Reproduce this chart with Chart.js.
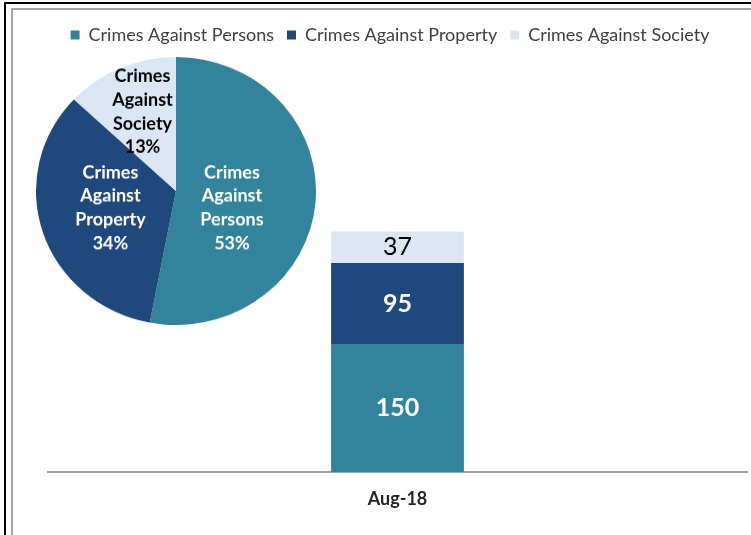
<!DOCTYPE html>
<html>
<head>
<meta charset="utf-8">
<script src="https://cdn.jsdelivr.net/npm/chart.js@4.4.1/dist/chart.umd.min.js"></script>
<style>
  html, body { margin: 0; padding: 0; background: #fff; overflow: hidden; }
  #wrap { position: relative; width: 751px; height: 535px; }
  #outer { position: absolute; left: 4px; top: 2px; width: 900px; height: 700px; border: 2px solid #000; }
  #inner { position: absolute; left: 11px; top: 8px; width: 900px; height: 700px; border: 2px solid #a6a6a6; }
  #barBox { position: absolute; left: 0; top: 0; width: 751px; height: 535px; }
  #pieBox { position: absolute; left: 36px; top: 57px; width: 280px; height: 280px; transform: scale(1, 0.957); transform-origin: 0 0; }
</style>
</head>
<body>
<div id="wrap">
  <div id="outer"></div>
  <div id="inner"></div>
  <div id="barBox"><canvas id="bar" width="751" height="535"></canvas></div>
  <div id="pieBox"><canvas id="pie" width="280" height="280"></canvas></div>
</div>
<script>
const categories = ['Aug-18'];
const seriesNames = ['Crimes Against Persons', 'Crimes Against Property', 'Crimes Against Society'];
const personsValues = [150];
const propertyValues = [95];
const societyValues = [37];
const pieShares = [53, 34, 13];
const seriesColors = ['#31849B', '#1F497D', '#DCE6F2'];

const FONT = 'Lato, "Open Sans", sans-serif';

const barLabelPlugin = {
  id: 'barLabels',
  afterDatasetsDraw(chart) {
    const ctx = chart.ctx;
    const styles = [
      { color: '#ffffff', weight: 'bold' },
      { color: '#ffffff', weight: 'bold' },
      { color: '#000000', weight: 'normal' }
    ];
    chart.data.datasets.forEach((ds, i) => {
      const meta = chart.getDatasetMeta(i);
      meta.data.forEach((el, j) => {
        const v = ds.data[j];
        const y = (el.y + el.base) / 2;
        ctx.save();
        ctx.font = styles[i].weight + ' 25px ' + FONT;
        ctx.fillStyle = styles[i].color;
        ctx.textAlign = 'center';
        ctx.textBaseline = 'middle';
        ctx.fillText(String(v), el.x, y);
        ctx.restore();
      });
    });
  }
};

const pieLabelPlugin = {
  id: 'pieLabels',
  afterDatasetsDraw(chart, args, opts) {
    const ctx = chart.ctx;
    const meta = chart.getDatasetMeta(0);
    const ds = chart.data.datasets[0];
    meta.data.forEach((arc, i) => {
      const mid = (arc.startAngle + arc.endAngle) / 2 + opts.shift[i] * Math.PI / 180;
      const r = arc.outerRadius * opts.radius[i];
      const cx = arc.x + Math.cos(mid) * r;
      const cy = arc.y + Math.sin(mid) * r;
      const lines = chart.data.labels[i].split(' ').concat([ds.data[i] + '%']);
      const lh = 24.7;
      ctx.save();
      ctx.font = 'bold 18px ' + FONT;
      ctx.fillStyle = opts.colors[i];
      ctx.textAlign = 'center';
      ctx.textBaseline = 'middle';
      lines.forEach((t, k) => {
        ctx.fillText(t, cx, cy + (k - (lines.length - 1) / 2) * lh);
      });
      ctx.restore();
    });
  }
};

new Chart(document.getElementById('bar'), {
  type: 'bar',
  data: {
    labels: categories,
    datasets: [
      { label: seriesNames[0], data: personsValues, backgroundColor: seriesColors[0], borderWidth: 0 },
      { label: seriesNames[1], data: propertyValues, backgroundColor: seriesColors[1], borderWidth: 0 },
      { label: seriesNames[2], data: societyValues, backgroundColor: seriesColors[2], borderWidth: 0 }
    ]
  },
  options: {
    responsive: false,
    animation: false,
    layout: { padding: { top: 13, left: 33, right: 4, bottom: 17.5 } },
    datasets: { bar: { barPercentage: 1, categoryPercentage: 0.19 } },
    scales: {
      x: {
        stacked: true,
        grid: { display: false },
        border: { display: true, color: '#a0a0a0', width: 2 },
        ticks: { color: '#262626', font: { family: FONT, size: 18, weight: 'bold' }, padding: 8 }
      },
      y: {
        stacked: true,
        min: 0,
        max: 490,
        display: true,
        grid: { display: false },
        border: { display: false },
        ticks: { display: false },
        afterFit(scale) { scale.width = 15; }
      }
    },
    plugins: {
      legend: {
        position: 'top',
        labels: {
          boxWidth: 9,
          boxHeight: 9,
          padding: 13,
          color: '#404040',
          font: { family: FONT, size: 18 }
        }
      },
      tooltip: { enabled: false }
    }
  },
  plugins: [barLabelPlugin]
});

new Chart(document.getElementById('pie'), {
  type: 'pie',
  data: {
    labels: seriesNames,
    datasets: [{ data: pieShares, backgroundColor: seriesColors, borderWidth: 0 }]
  },
  options: {
    responsive: false,
    animation: false,
    layout: { padding: 0 },
    plugins: {
      legend: { display: false },
      tooltip: { enabled: false },
      pieLabels: {
        radius: [0.42, 0.485, 0.636],
        shift: [12.4, 2.8, 1.3],
        colors: ['#ffffff', '#ffffff', '#000000']
      }
    }
  },
  plugins: [pieLabelPlugin]
});
</script>
</body>
</html>
